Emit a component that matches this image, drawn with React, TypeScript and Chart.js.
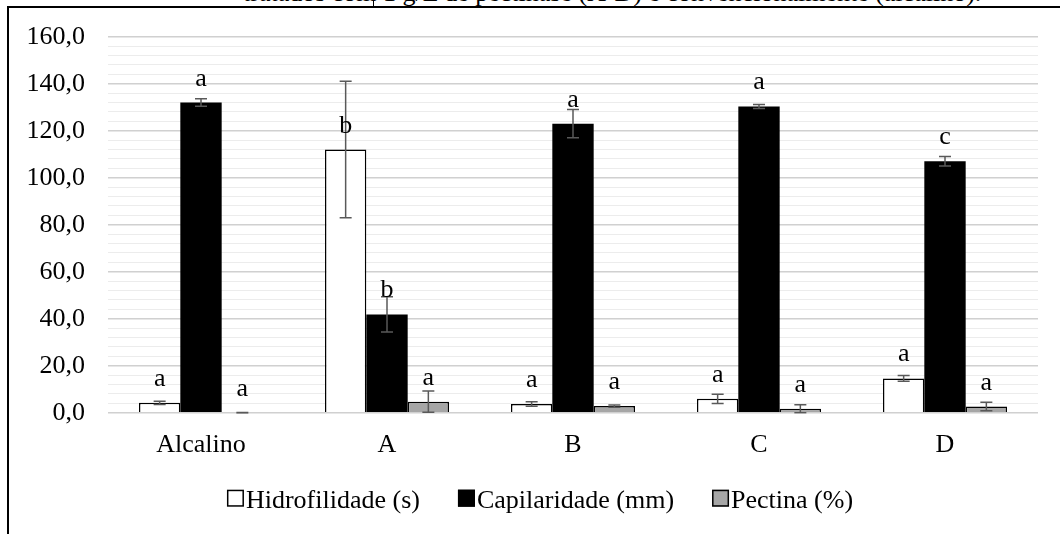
import React, { useEffect, useRef } from "react";
import { Chart, registerables } from "chart.js";

Chart.register(...registerables);

const FONT = '"Liberation Serif", "Times New Roman", serif';

// Treatments
const categories = ["Alcalino", "A", "B", "C", "D"];

// Hidrofilidade (s)
const hidrofilidade = [4.2, 112, 3.7, 5.9, 14.6];
const hidrofilidadeErr = [0.7, 29, 1.0, 2.0, 1.2];
const hidrofilidadeLetters = ["a", "b", "a", "a", "a"];

// Capilaridade (mm)
const capilaridade = [132, 41.8, 123, 130.3, 107];
const capilaridadeErr = [1.6, 7.5, 6, 0.8, 2];
const capilaridadeLetters = ["a", "b", "a", "a", "c"];

// Pectina (%)
const pectina = [0, 4.7, 2.8, 1.7, 2.6];
const pectinaErr = [0.1, 4.5, 0.5, 1.7, 1.8];
const pectinaLetters = ["a", "a", "a", "a", "a"];

// Y axis: labelled every 20, light grid every 4
const yMin = 0;
const yMax = 160;
const yStep = 4;
const yMajor = 20;

const seriesLabels = ["Hidrofilidade (s)", "Capilaridade (mm)", "Pectina (%)"];
const errors = [hidrofilidadeErr, capilaridadeErr, pectinaErr];
const letters = [hidrofilidadeLetters, capilaridadeLetters, pectinaLetters];

const errorBarsPlugin = {
  id: "errorBars",
  afterDatasetsDraw(chart: any) {
    const ctx = chart.ctx;
    const y = chart.scales.y;
    const area = chart.chartArea;
    ctx.save();
    ctx.beginPath();
    ctx.rect(area.left, area.top, area.right - area.left, area.bottom - area.top + 1);
    ctx.clip();
    ctx.strokeStyle = "#595959";
    ctx.lineWidth = 1.5;
    chart.data.datasets.forEach((ds: any, i: number) => {
      const meta = chart.getDatasetMeta(i);
      meta.data.forEach((el: any, j: number) => {
        const v = ds.data[j];
        const e = errors[i][j];
        const top = y.getPixelForValue(v + e);
        const bot = y.getPixelForValue(v - e);
        const cap = 6;
        ctx.beginPath();
        ctx.moveTo(el.x, top);
        ctx.lineTo(el.x, bot);
        ctx.moveTo(el.x - cap, top);
        ctx.lineTo(el.x + cap, top);
        ctx.moveTo(el.x - cap, bot);
        ctx.lineTo(el.x + cap, bot);
        ctx.stroke();
      });
    });
    ctx.restore();
  },
};

const lettersPlugin = {
  id: "letters",
  afterDatasetsDraw(chart: any) {
    const ctx = chart.ctx;
    ctx.save();
    ctx.font = `26px ${FONT}`;
    ctx.fillStyle = "#000";
    ctx.textAlign = "center";
    ctx.textBaseline = "alphabetic";
    chart.data.datasets.forEach((_ds: any, i: number) => {
      const meta = chart.getDatasetMeta(i);
      meta.data.forEach((el: any, j: number) => {
        ctx.fillText(letters[i][j], el.x, el.y - 17);
      });
    });
    ctx.restore();
  },
};

const legendPlugin = {
  id: "squareLegend",
  afterDraw(chart: any) {
    const ctx = chart.ctx;
    ctx.save();
    ctx.font = `26px ${FONT}`;
    ctx.textBaseline = "alphabetic";
    ctx.textAlign = "left";
    const box = 17;
    const gap = 2;
    const itemGap = 38;
    const ds = chart.data.datasets;
    const widths = ds.map((d: any) => box + gap + ctx.measureText(d.label).width);
    const total = widths.reduce((a: number, b: number) => a + b, 0) + itemGap * (ds.length - 1);
    let x = chart.width / 2 - total / 2;
    const baseline = chart.chartArea.bottom + 95;
    ds.forEach((d: any, i: number) => {
      const top = baseline - 18;
      ctx.fillStyle = d.backgroundColor;
      ctx.fillRect(x, top, box, box);
      ctx.strokeStyle = "#000";
      ctx.lineWidth = 1.5;
      ctx.strokeRect(x + 0.75, top + 0.75, box - 1.5, box - 1.5);
      ctx.fillStyle = "#000";
      ctx.fillText(d.label, x + box + gap, baseline);
      x += widths[i] + itemGap;
    });
    ctx.restore();
  },
};

export default function App() {
  const canvasRef = useRef<HTMLCanvasElement | null>(null);

  useEffect(() => {
    const canvas = canvasRef.current;
    if (!canvas) return;
    const chart = new Chart(canvas, {
      type: "bar",
      data: {
        labels: categories,
        datasets: [
          {
            label: seriesLabels[0],
            data: hidrofilidade,
            backgroundColor: "#ffffff",
            borderColor: "#000000",
            borderWidth: 1.5,
          },
          {
            label: seriesLabels[1],
            data: capilaridade,
            backgroundColor: "#000000",
            borderColor: "#000000",
            borderWidth: 0,
          },
          {
            label: seriesLabels[2],
            data: pectina,
            backgroundColor: "#a6a6a6",
            borderColor: "#000000",
            borderWidth: 1.5,
          },
        ],
      },
      options: {
        responsive: false,
        animation: false,
        devicePixelRatio: 1,
        datasets: {
          bar: {
            categoryPercentage: 0.667,
            barPercentage: 1,
          },
        },
        layout: {
          padding: { left: 0, top: 29.7, right: 34, bottom: 0 },
        },
        plugins: {
          legend: { display: false },
          tooltip: { enabled: false },
        },
        scales: {
          x: {
            grid: { display: false, drawTicks: false },
            border: { display: false },
            ticks: {
              color: "#000",
              padding: 17,
              font: { family: FONT, size: 26 },
            },
            afterFit(scale: any) {
              scale.height = 121.3;
            },
          },
          y: {
            min: yMin,
            max: yMax,
            border: { display: false },
            grid: {
              drawTicks: false,
              color: (c: any) => (c.tick && c.tick.value % yMajor === 0 ? "#d0d0d0" : "#ececec"),
              lineWidth: (c: any) => (c.tick && c.tick.value % yMajor === 0 ? 1.5 : 1),
            },
            ticks: {
              stepSize: yStep,
              autoSkip: false,
              color: "#000",
              padding: 23,
              font: { family: FONT, size: 26, lineHeight: 0.5 },
              callback: (v: any) => (Number(v) % yMajor === 0 ? Number(v).toFixed(1).replace(".", ",") : ""),
            },
            afterFit(scale: any) {
              scale.width = 100;
            },
          },
        },
      },
      plugins: [errorBarsPlugin, lettersPlugin, legendPlugin],
    } as any);
    return () => chart.destroy();
  }, []);

  return (
    <div
      style={{
        position: "fixed",
        left: 0,
        top: 0,
        width: 1060,
        height: 534,
        overflow: "hidden",
        background: "#fff",
      }}
    >
      <div
        style={{
          position: "absolute",
          left: 243,
          top: -20,
          fontFamily: FONT,
          fontSize: 26,
          lineHeight: "26px",
          whiteSpace: "nowrap",
          color: "#000",
        }}
      >
        tratados com 1 g/L de pectinase (A-D) e convencionalmente (alcalino).
      </div>
      <div style={{ position: "absolute", left: 373, top: 0, width: 1, height: 7, background: "#000" }} />
      <div
        style={{
          position: "absolute",
          left: 7,
          top: 6,
          width: 1100,
          height: 600,
          borderTop: "2px solid #000",
          borderLeft: "2px solid #000",
        }}
      />
      <canvas
        ref={canvasRef}
        width={1064}
        height={527}
        style={{ position: "absolute", left: 8, top: 7, width: 1064, height: 527 }}
      />
    </div>
  );
}
